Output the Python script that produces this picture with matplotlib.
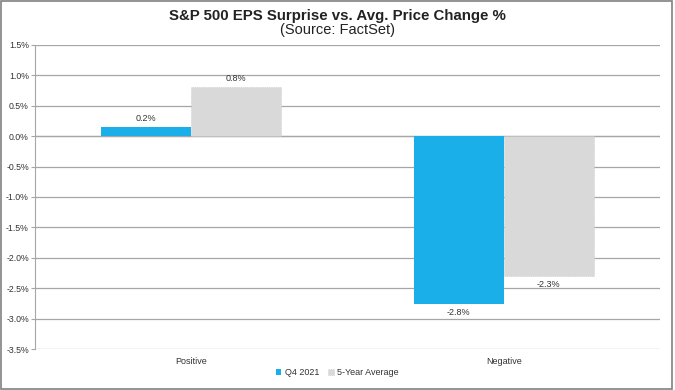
import numpy as np
import matplotlib.pyplot as plt
from matplotlib.patches import Rectangle
from matplotlib.ticker import FuncFormatter

plt.rcParams['font.family'] = ['Liberation Sans', 'DejaVu Sans']

categories = ['Positive', 'Negative']
q4_2021 = [0.15, -2.76]
five_year = [0.81, -2.30]
q4_labels = ['0.2%', '-2.8%']
five_labels = ['0.8%', '-2.3%']

blue = '#1aafe8'
gray = '#d9d9d9'

fig = plt.figure(figsize=(6.75, 3.9), dpi=100)
fig.patches.append(Rectangle((0.002, 0.003), 0.994, 0.994, transform=fig.transFigure,
                             fill=False, edgecolor='#808080', linewidth=1.2))
ax = fig.add_axes([0.052, 0.105, 0.926, 0.78])

x = np.arange(len(categories))
w = 0.288
b1 = ax.bar(x - w / 2, q4_2021, w, color=blue, label='Q4 2021', zorder=3)
b2 = ax.bar(x + w / 2, five_year, w, color=gray, label='5-Year Average', zorder=3,
            edgecolor='#c4c4c4', linestyle=':', linewidth=0.5)

for bars, labels in [(b1, q4_labels), (b2, five_labels)]:
    for bar, lab in zip(bars, labels):
        h = bar.get_height()
        if h >= 0:
            ax.text(bar.get_x() + bar.get_width() / 2, h + 0.07, lab,
                    ha='center', va='bottom', fontsize=6.5, color='#333333')
        else:
            ax.text(bar.get_x() + bar.get_width() / 2, h - 0.07, lab,
                    ha='center', va='top', fontsize=6.5, color='#333333')

ax.set_xlim(-0.5, 1.5)
ax.set_ylim(-3.5, 1.5)
ax.set_yticks(np.arange(-3.5, 1.51, 0.5))
ax.yaxis.set_major_formatter(FuncFormatter(lambda v, p: f'{v:.1f}%'))
ax.grid(axis='y', color='#a6a6a6', linewidth=0.9, zorder=0)
ax.axhline(0, color='#a6a6a6', linewidth=0.9, zorder=2)

ax.set_xticks(x)
ax.set_xticklabels(categories)
ax.tick_params(axis='x', length=0, labelsize=6.5, colors='#333333', pad=6)
ax.tick_params(axis='y', length=3, labelsize=6.3, colors='#333333', color='#a6a6a6', pad=1.5)
for s in ['top', 'right', 'bottom']:
    ax.spines[s].set_visible(False)
ax.spines['left'].set_color('#a6a6a6')

fig.text(0.5, 0.958, 'S&P 500 EPS Surprise vs. Avg. Price Change %', ha='center',
         va='center', fontsize=10.8, fontweight='bold', color='#222222')
fig.text(0.5, 0.924, '(Source: FactSet)', ha='center', va='center', fontsize=10.5,
         color='#222222')

fig.legend(loc='center', bbox_to_anchor=(0.5, 0.045), ncol=2, frameon=False,
           fontsize=6.5, handlelength=0.6, handleheight=0.6, columnspacing=1.0,
           handletextpad=0.4, labelcolor='#333333')

plt.savefig('out.png', dpi=100)
